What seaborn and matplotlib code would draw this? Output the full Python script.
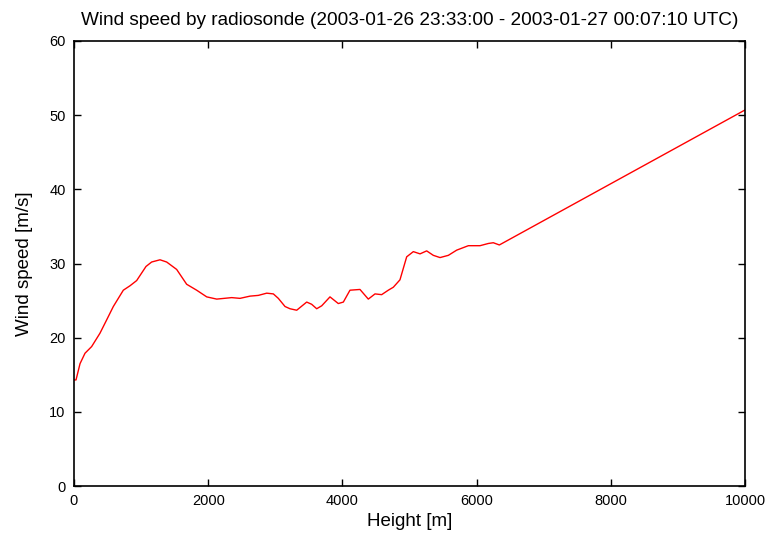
import matplotlib
matplotlib.use("Agg")
import matplotlib.pyplot as plt
import seaborn as sns
import pandas as pd

height_m = [0, 30, 90, 164, 263, 387, 487, 586, 735, 835, 934, 1073, 1157, 1282, 1381,
            1530, 1679, 1828, 1978, 2127, 2350, 2474, 2623, 2747, 2872, 2971, 3045, 3145,
            3219, 3319, 3468, 3542, 3617, 3692, 3815, 3939, 4014, 4113, 4262, 4386, 4486,
            4585, 4684, 4759, 4858, 4958, 5057, 5157, 5256, 5355, 5455, 5579, 5703, 5877,
            6051, 6175, 6249, 6339, 10000]
wind_speed = [14.3, 14.3, 16.5, 17.9, 18.8, 20.6, 22.4, 24.2, 26.4, 27.0, 27.7, 29.6, 30.2,
              30.5, 30.2, 29.2, 27.2, 26.4, 25.5, 25.2, 25.4, 25.3, 25.6, 25.7, 26.0, 25.9,
              25.3, 24.2, 23.9, 23.7, 24.8, 24.5, 23.9, 24.3, 25.5, 24.6, 24.8, 26.4, 26.5,
              25.2, 25.9, 25.8, 26.4, 26.8, 27.8, 30.9, 31.6, 31.3, 31.7, 31.1, 30.8, 31.1,
              31.8, 32.4, 32.4, 32.7, 32.8, 32.5, 50.7]
x_ticks = [0, 2000, 4000, 6000, 8000, 10000]
y_ticks = [0, 10, 20, 30, 40, 50, 60]
title = "Wind speed by radiosonde (2003-01-26 23:33:00 - 2003-01-27 00:07:10 UTC)"

sns.set_style("ticks")
plt.rcParams['font.family'] = ['Liberation Sans', 'DejaVu Sans']
plt.rcParams['text.color'] = 'black'
plt.rcParams['axes.labelcolor'] = 'black'

df = pd.DataFrame({"Height": height_m, "Speed": wind_speed})

fig = plt.figure(figsize=(7.7, 5.35), dpi=100)
ax = fig.add_axes([74/770, 1-486/535, (745-74)/770, (486-41)/535])
sns.lineplot(data=df, x="Height", y="Speed", sort=False, estimator=None,
             color="#ff0000", linewidth=1.0, ax=ax)

ax.set_xlim(0, 10000)
ax.set_ylim(0, 60)
ax.set_xticks(x_ticks)
ax.set_yticks(y_ticks)
ax.tick_params(direction='in', top=True, right=True, length=5, width=1,
               labelsize=10.5, colors='black', pad=6)
for s in ax.spines.values():
    s.set_visible(True)
    s.set_linewidth(1.2)
    s.set_color('black')
ax.set_xlabel("Height [m]", fontsize=13.5, labelpad=3, color='black')
ax.set_ylabel("Wind speed [m/s]", fontsize=13.5, labelpad=12, color='black')
fig.text(409.5/770, 1-25/535, title, ha='center', va='baseline', fontsize=13.7,
         color='black')

fig.savefig("out.png", dpi=100)
